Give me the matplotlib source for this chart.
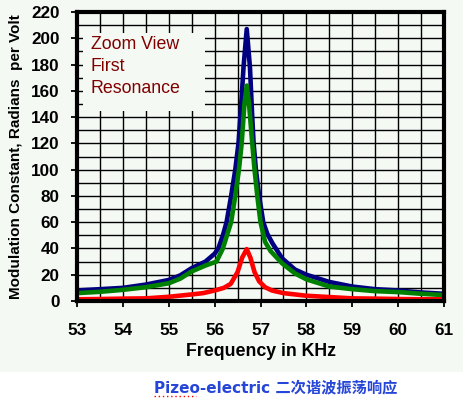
import matplotlib
matplotlib.use("Agg")
import matplotlib.pyplot as plt
from matplotlib.patches import Rectangle
from matplotlib.lines import Line2D
import numpy as np

# ---- data ----
blue_freq = [53, 53.5, 54, 54.5, 55, 55.25, 55.5, 55.8, 56.0, 56.08, 56.18, 56.26,
             56.36, 56.45, 56.52, 56.58, 56.63, 56.7, 56.77, 56.82, 56.85, 56.9,
             56.97, 57.06, 57.15, 57.26, 57.47, 57.75, 58, 58.5, 59, 59.5, 60, 60.5, 61]
blue_vals = [8, 9, 10, 12.5, 16, 19.5, 25, 30, 36, 40, 50, 60,
             80, 100, 120, 150, 178, 207, 178, 140, 120, 100,
             80, 60, 51, 44, 32.5, 24, 20, 14.5, 11, 9, 8, 6.5, 5.5]
green_freq = [53, 53.5, 54, 54.5, 55, 55.25, 55.5, 55.8, 56.04, 56.18, 56.36, 56.45,
              56.53, 56.59, 56.65, 56.7, 56.75, 56.82, 56.87, 56.93, 57.0, 57.1,
              57.22, 57.47, 57.75, 58, 58.5, 59, 59.5, 60, 60.5, 61]
green_vals = [6, 7, 8.5, 10.5, 13.5, 17, 22.5, 27, 30, 40, 60, 80,
              100, 120, 150, 164, 150, 120, 100, 80, 60, 45,
              38, 28.7, 21, 16.5, 11, 9, 7.5, 6.8, 5.5, 4.5]
red_freq = [53, 53.5, 54, 54.5, 55, 55.5, 55.75, 56, 56.2, 56.35, 56.5, 56.6,
            56.7, 56.78, 56.87, 56.97, 57.1, 57.25, 57.5, 57.75, 58, 58.5,
            59, 59.5, 60, 60.5, 61]
red_vals = [1.3, 1.5, 1.8, 2, 3.2, 5, 6, 8, 10, 13, 22, 33,
            39.5, 33, 22, 15, 10.5, 8, 6, 5, 4, 3,
            2, 1.8, 1.5, 1.3, 1.3]
x_ticks = [53, 54, 55, 56, 57, 58, 59, 60, 61]
y_ticks = list(range(0, 221, 20))
note_lines = ["Zoom View", "First", "Resonance"]
x_label = "Frequency in KHz"
y_label = "Modulation Constant, Radians  per Volt"
caption = "Pizeo-electric 二次谐波振荡响应"

bg = "#f4f9f4"
fig = plt.figure(figsize=(4.64, 3.99), dpi=100, facecolor=bg)
# white strip at bottom for caption
fig.patches.append(Rectangle((0, 0), 1, 1 - 372 / 399, transform=fig.transFigure,
                             facecolor="white", edgecolor="none", zorder=0))

ax = fig.add_axes([77 / 464, 1 - 301 / 399, (444 - 77) / 464, (301 - 12) / 399])
ax.set_facecolor(bg)

ax.plot(blue_freq, blue_vals, color="#000080", lw=3.3, solid_joinstyle="round", zorder=5)
ax.plot(green_freq, green_vals, color="#008000", lw=3.3, solid_joinstyle="round", zorder=6)
ax.plot(red_freq, red_vals, color="#ff0000", lw=3.3, solid_joinstyle="round", zorder=7)

ax.set_xlim(53, 61)
ax.set_ylim(0, 220)
ax.set_xticks(x_ticks)
ax.set_yticks(y_ticks)
ax.set_xticks(np.arange(53.5, 61, 1.0), minor=True)
ax.set_yticks(np.arange(10, 220, 20), minor=True)
ax.grid(True, which="both", color="black", lw=1.0, zorder=1)
ax.set_axisbelow(True)

tickfont = dict(family="Liberation Sans", weight="bold", size=12.3)
ax.set_xticklabels([str(t) for t in x_ticks], **tickfont)
ax.set_yticklabels([str(t) for t in y_ticks], **tickfont)
ax.tick_params(axis="both", which="major", direction="out", length=4.5, width=1.3,
               color="black")
ax.tick_params(axis="y", which="major", pad=8)
ax.tick_params(axis="x", which="major", pad=11)
ax.tick_params(axis="both", which="minor", length=0)

for s in ax.spines.values():
    s.set_linewidth(3.0)
    s.set_color("black")
    s.set_zorder(10)

ax.set_xlabel(x_label, family="Liberation Sans", weight="bold", size=12.8, labelpad=4)
ax.set_ylabel(y_label, family="Liberation Sans", weight="bold", size=11, labelpad=6)

# note box
ax.add_patch(Rectangle((0.016, 0.657), 0.333, 0.27, transform=ax.transAxes,
                       facecolor=bg, edgecolor="none", zorder=3))
for i, line in enumerate(note_lines):
    ax.text(0.038, 0.886 - i * 0.075, line, transform=ax.transAxes,
            color="#800000", family="Liberation Sans", size=12.8,
            ha="left", va="center", zorder=4)

fig.text(0.595, 1 - 388 / 399, caption, color="#2646d8", size=11, weight="bold",
         family=["DejaVu Sans", "Noto Sans CJK SC"], ha="center", va="center")
fig.add_artist(Line2D([154 / 464, 196 / 464], [1 - 396 / 399, 1 - 396 / 399],
                      transform=fig.transFigure, color="red", lw=1.0,
                      linestyle=(0, (1, 2))))

fig.savefig("out.png", dpi=100, facecolor=fig.get_facecolor())
